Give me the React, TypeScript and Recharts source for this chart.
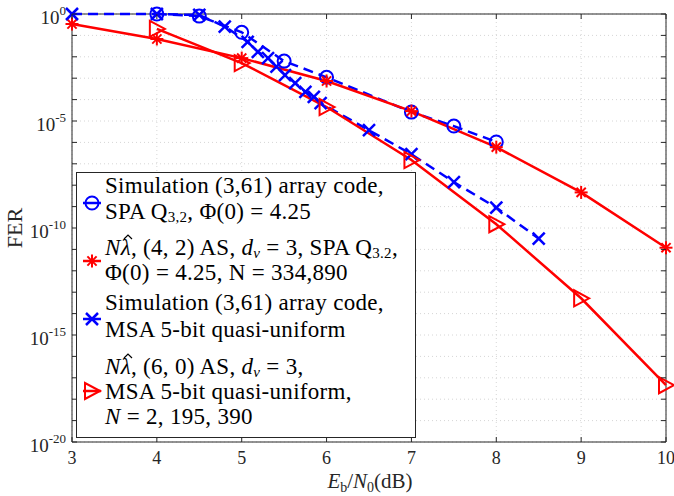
import { CartesianGrid, Legend, Line, LineChart, ReferenceLine, XAxis, YAxis } from "recharts";

// Axis ticks
const X_TICKS = [3, 4, 5, 6, 7, 8, 9, 10];
const Y_TICKS = [
  1, 1e-1, 1e-2, 1e-3, 1e-4, 1e-5, 1e-6, 1e-7, 1e-8, 1e-9, 1e-10,
  1e-11, 1e-12, 1e-13, 1e-14, 1e-15, 1e-16, 1e-17, 1e-18, 1e-19, 1e-20,
];

// Simulation (3,61) array code, SPA
const SPA_SIM_X = [4, 4.5, 5, 5.5, 6, 7, 7.5, 8];
const SPA_SIM_FER = [1, 0.8, 0.14, 6.3e-3, 1.1e-3, 2.6e-5, 5.8e-6, 1.05e-6];

// N lambda (4,2) AS, SPA
const SPA_EST_X = [3, 4, 5, 6, 7, 8, 9, 10];
const SPA_EST_FER = [0.34, 0.068, 8.7e-3, 7.4e-4, 2.9e-5, 6e-7, 4.6e-9, 1.2e-11];

// Simulation (3,61) array code, MSA
const MSA_SIM_X = [3, 4, 4.5, 4.8, 5.07, 5.19, 5.31, 5.41, 5.51, 5.63, 5.75, 5.85, 5.93, 6.5, 7, 7.5, 8, 8.5];
const MSA_SIM_FER = [
  1, 1, 0.9, 0.26, 0.05, 0.017, 8.7e-3, 3.5e-3, 1.4e-3, 5.9e-4, 2.3e-4, 1.35e-4, 6.9e-5,
  3.7e-6, 2.8e-7, 1.4e-8, 9e-10, 3.2e-11,
];

// N lambda (6,0) AS, MSA
const MSA_EST_X = [4, 5, 6, 7, 8, 9, 10];
const MSA_EST_FER = [0.2, 5.1e-3, 4.5e-5, 1.5e-7, 1.5e-10, 5.2e-14, 4.5e-18];

const zip = (xs: number[], ys: number[]) => xs.map((x, i) => ({ x, fer: ys[i] }));

const SERIF = "'Liberation Serif', 'Times New Roman', serif";
const AX = "#262626";
const BLUE = "#0000ff";
const RED = "#ff0000";

// plot box (matches margins + axis sizes below)
const PL = 72;
const PR = 666;
const PT = 14;
const PB = 442;

type Kind = "circle" | "star" | "cross" | "tri";

function Marker({ kind, cx, cy, color }: { kind: Kind; cx: number; cy: number; color: string }) {
  if (kind === "circle") return <circle cx={cx} cy={cy} r={6.5} fill="none" stroke={color} strokeWidth={2} />;
  if (kind === "cross") {
    const s = 6;
    return (
      <g stroke={color} strokeWidth={2.5}>
        <line x1={cx - s} y1={cy - s} x2={cx + s} y2={cy + s} />
        <line x1={cx - s} y1={cy + s} x2={cx + s} y2={cy - s} />
      </g>
    );
  }
  if (kind === "star") {
    const s = 6.5;
    const d = 4.6;
    return (
      <g stroke={color} strokeWidth={2}>
        <line x1={cx - s} y1={cy} x2={cx + s} y2={cy} />
        <line x1={cx} y1={cy - s} x2={cx} y2={cy + s} />
        <line x1={cx - d} y1={cy - d} x2={cx + d} y2={cy + d} />
        <line x1={cx - d} y1={cy + d} x2={cx + d} y2={cy - d} />
      </g>
    );
  }
  return (
    <polygon
      points={`${cx + 8},${cy} ${cx - 7},${cy - 8} ${cx - 7},${cy + 8}`}
      fill="none"
      stroke={color}
      strokeWidth={2}
    />
  );
}

const dotFor = (kind: Kind, color: string) => (p: any) => (
  <Marker key={`${kind}-${p.index}`} kind={kind} cx={p.cx} cy={p.cy} color={color} />
);

function YTick({ y, payload }: any) {
  const exp = Math.round(Math.log10(payload.value));
  return (
    <g>
      <line x1={PL} x2={PL + 5} y1={y} y2={y} stroke={AX} />
      <line x1={PR - 5} x2={PR} y1={y} y2={y} stroke={AX} />
      {exp % 5 === 0 && (
        <text x={66} y={y + 10} textAnchor="end" fontFamily={SERIF} fontSize={19} fill={AX}>
          10
          <tspan dy={-9} fontSize={13}>
            {exp}
          </tspan>
        </text>
      )}
    </g>
  );
}

function XTick({ x, payload }: any) {
  return (
    <g>
      <line x1={x} x2={x} y1={PB} y2={PB - 5} stroke={AX} />
      <line x1={x} x2={x} y1={PT} y2={PT + 5} stroke={AX} />
      <text x={x} y={PB + 22} textAnchor="middle" fontFamily={SERIF} fontSize={18} fill={AX}>
        {payload.value}
      </text>
    </g>
  );
}

const XLabel = () => (
  <text x={370} y={488} textAnchor="middle" fontFamily={SERIF} fontSize={21} fill={AX}>
    <tspan fontStyle="italic">E</tspan>
    <tspan fontSize={14} dy={4}>b</tspan>
    <tspan dy={-4}>/</tspan>
    <tspan fontStyle="italic">N</tspan>
    <tspan fontSize={14} dy={4}>0</tspan>
    <tspan dy={-4}>(dB)</tspan>
  </text>
);

const YLabel = () => (
  <text
    x={22}
    y={228}
    transform="rotate(-90 22 228)"
    textAnchor="middle"
    fontFamily={SERIF}
    fontSize={22}
    fill={AX}
  >
    FER
  </text>
);

const Sub = ({ children, italic }: { children: any; italic?: boolean }) => (
  <span style={{ fontSize: 15, lineHeight: 1, verticalAlign: "-3px", fontStyle: italic ? "italic" : "normal" }}>
    {children}
  </span>
);

// lambda with a hat drawn as a small path
const LamHat = () => (
  <span style={{ position: "relative", display: "inline-block" }}>
    <i>λ</i>
    <svg width={10} height={6} style={{ position: "absolute", left: 2, top: -2 }}>
      <path d="M1 5 L5 1 L9 5" fill="none" stroke="#000" strokeWidth={1.2} />
    </svg>
  </span>
);

const ENTRIES: { kind: Kind; color: string; symY: number; lines: { y: number; el: any }[] }[] = [
  {
    kind: "circle",
    color: BLUE,
    symY: 30,
    lines: [
      { y: 14, el: <>Simulation (3,61) array code,</> },
      { y: 40, el: <>SPA Q<Sub>3,2</Sub>, Φ(0) = 4.25</> },
    ],
  },
  {
    kind: "star",
    color: RED,
    symY: 88,
    lines: [
      { y: 76, el: <><i>N</i><LamHat />, (4, 2) AS, <i>d</i><Sub italic>v</Sub> = 3, SPA Q<Sub>3.2</Sub>,</> },
      { y: 101, el: <>Φ(0) = 4.25, N = 334,890</> },
    ],
  },
  {
    kind: "cross",
    color: BLUE,
    symY: 146,
    lines: [
      { y: 131, el: <>Simulation (3,61) array code,</> },
      { y: 158, el: <>MSA 5-bit quasi-uniform</> },
    ],
  },
  {
    kind: "tri",
    color: RED,
    symY: 218,
    lines: [
      { y: 195, el: <><i>N</i><LamHat />, (6, 0) AS, <i>d</i><Sub italic>v</Sub> = 3,</> },
      { y: 220, el: <>MSA 5-bit quasi-uniform,</> },
      { y: 245, el: <><i>N</i> = 2, 195, 390</> },
    ],
  },
];

function LegendBox() {
  return (
    <div
      style={{
        position: "relative",
        width: 340,
        height: 266,
        boxSizing: "border-box",
        border: `1px solid ${AX}`,
        background: "#fff",
        fontFamily: SERIF,
        fontSize: 23,
        letterSpacing: 0.3,
        color: "#000",
      }}
    >
      <svg width={30} height={266} style={{ position: "absolute", left: 0, top: 0 }}>
        {ENTRIES.map((e, i) => (
          <g key={i}>
            <line x1={6} x2={24} y1={e.symY} y2={e.symY} stroke={e.color} strokeWidth={2.5} />
            <Marker kind={e.kind} cx={15} cy={e.symY} color={e.color} />
          </g>
        ))}
      </svg>
      {ENTRIES.flatMap((e, i) =>
        e.lines.map((l, j) => (
          <div
            key={`${i}-${j}`}
            style={{ position: "absolute", left: 28, top: l.y - 13, height: 24, lineHeight: "24px", whiteSpace: "nowrap" }}
          >
            {l.el}
          </div>
        )),
      )}
    </div>
  );
}

export default function App() {
  return (
    <div style={{ position: "absolute", left: 0, top: 0, background: "#fff" }}>
      <LineChart width={674} height={496} margin={{ top: PT, right: 674 - PR, left: 0, bottom: 0 }}>
        <CartesianGrid stroke="#d6d6d6" strokeDasharray="1 3" />
        <XAxis
          type="number"
          dataKey="x"
          domain={[3, 10]}
          ticks={X_TICKS}
          interval={0}
          height={496 - PB}
          axisLine={{ stroke: AX }}
          tickLine={false}
          tick={<XTick />}
          label={<XLabel />}
        />
        <YAxis
          type="number"
          scale="log"
          domain={[1e-20, 1]}
          ticks={Y_TICKS}
          interval={0}
          width={PL}
          axisLine={{ stroke: AX }}
          tickLine={false}
          tick={<YTick />}
          label={<YLabel />}
        />
        <ReferenceLine y={1} stroke={AX} />
        <ReferenceLine x={10} stroke={AX} />
        <Line
          data={zip(SPA_SIM_X, SPA_SIM_FER)}
          dataKey="fer"
          stroke={BLUE}
          strokeWidth={2.5}
          strokeDasharray="10 6"
          dot={dotFor("circle", BLUE)}
          activeDot={false}
          isAnimationActive={false}
        />
        <Line
          data={zip(SPA_EST_X, SPA_EST_FER)}
          dataKey="fer"
          stroke={RED}
          strokeWidth={2.5}
          dot={dotFor("star", RED)}
          activeDot={false}
          isAnimationActive={false}
        />
        <Line
          data={zip(MSA_SIM_X, MSA_SIM_FER)}
          dataKey="fer"
          stroke={BLUE}
          strokeWidth={2.5}
          strokeDasharray="10 6"
          dot={dotFor("cross", BLUE)}
          activeDot={false}
          isAnimationActive={false}
        />
        <Line
          data={zip(MSA_EST_X, MSA_EST_FER)}
          dataKey="fer"
          stroke={RED}
          strokeWidth={2.5}
          dot={dotFor("tri", RED)}
          activeDot={false}
          isAnimationActive={false}
        />
        <Legend
          layout="vertical"
          align="center"
          verticalAlign="middle"
          content={() => <LegendBox />}
          wrapperStyle={{ left: 76, top: 172, width: 340, height: 266 }}
        />
      </LineChart>
    </div>
  );
}
